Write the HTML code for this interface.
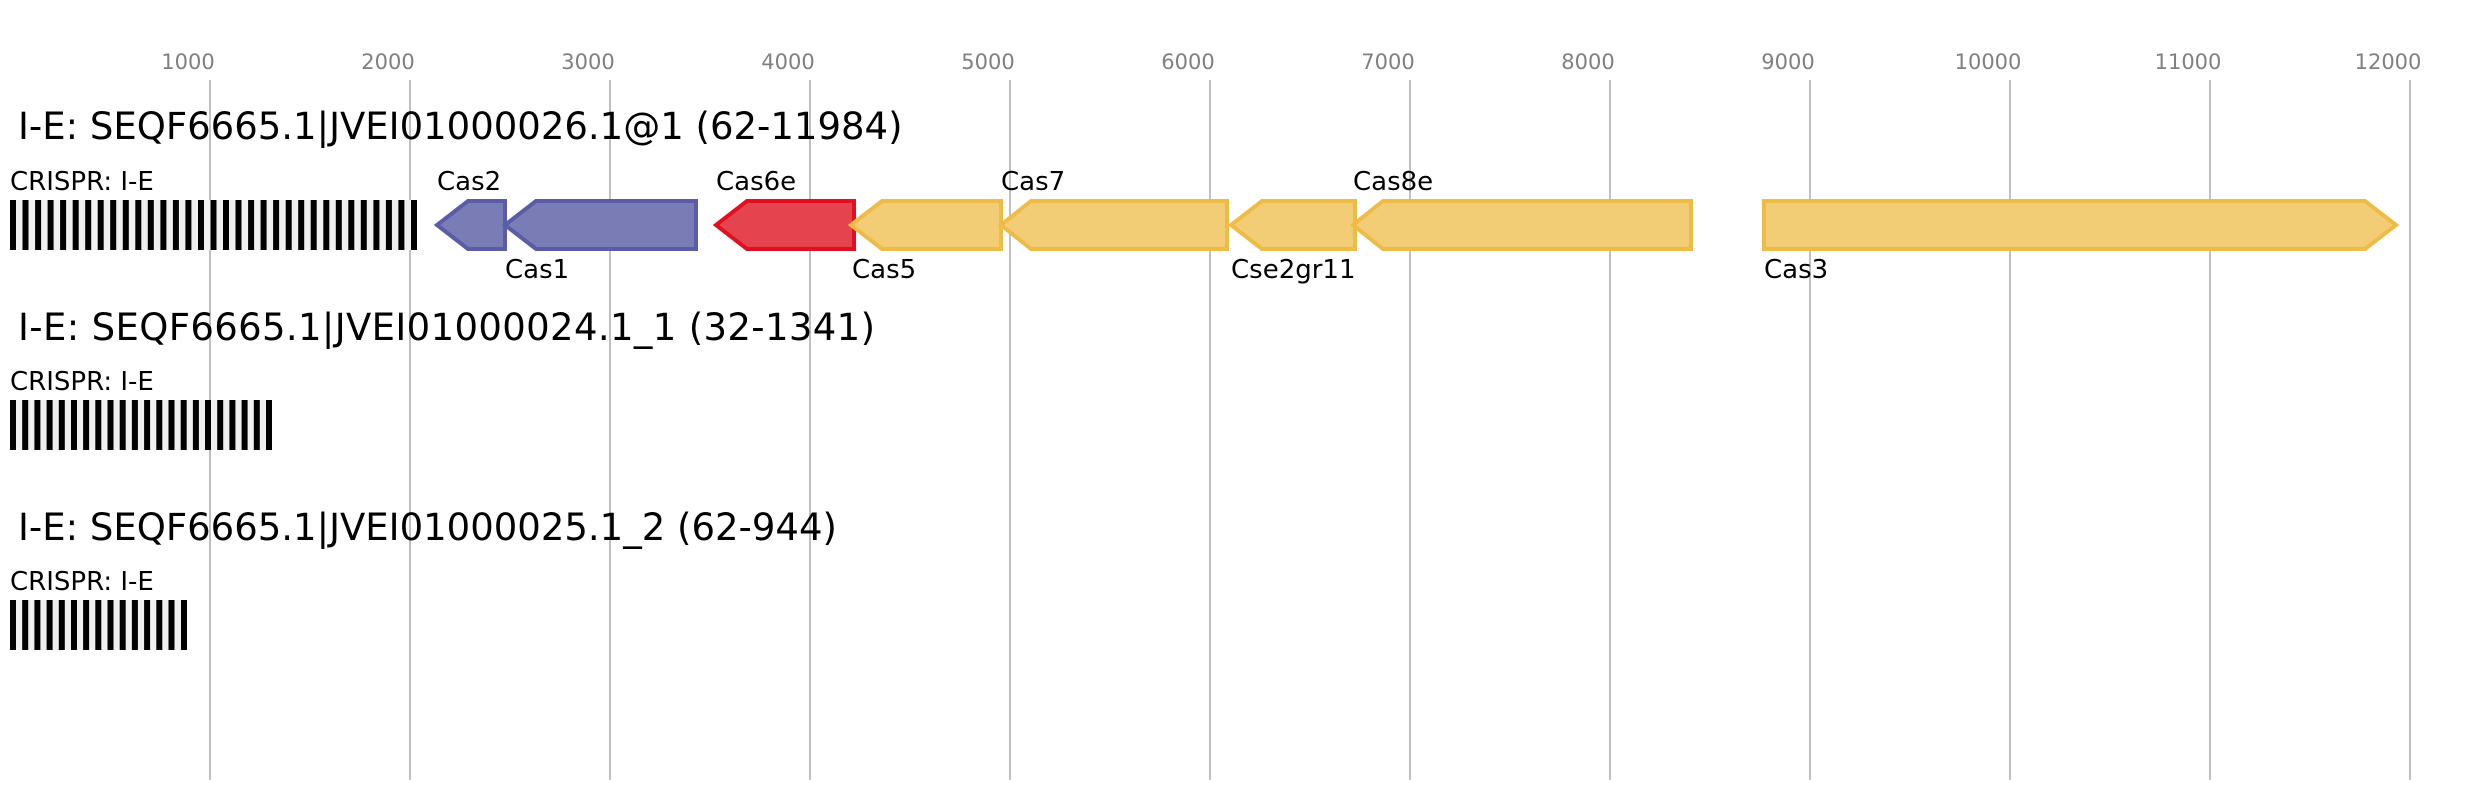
<!DOCTYPE html>
<html><head><meta charset="utf-8"><style>html,body{margin:0;padding:0;background:#fff}svg{display:block}</style></head>
<body>
<svg width="2484" height="800" xmlns="http://www.w3.org/2000/svg" font-family="DejaVu Sans, Liberation Sans, sans-serif">
<g stroke="#c0c0c0" stroke-width="2">
<line x1="210" y1="80" x2="210" y2="780"/><line x1="410" y1="80" x2="410" y2="780"/><line x1="610" y1="80" x2="610" y2="780"/><line x1="810" y1="80" x2="810" y2="780"/><line x1="1010" y1="80" x2="1010" y2="780"/><line x1="1210" y1="80" x2="1210" y2="780"/><line x1="1410" y1="80" x2="1410" y2="780"/><line x1="1610" y1="80" x2="1610" y2="780"/><line x1="1810" y1="80" x2="1810" y2="780"/><line x1="2010" y1="80" x2="2010" y2="780"/><line x1="2210" y1="80" x2="2210" y2="780"/><line x1="2410" y1="80" x2="2410" y2="780"/>
</g>
<g fill="#808080" font-size="21" text-anchor="middle">
<text x="188" y="69">1000</text><text x="388" y="69">2000</text><text x="588" y="69">3000</text><text x="788" y="69">4000</text><text x="988" y="69">5000</text><text x="1188" y="69">6000</text><text x="1388" y="69">7000</text><text x="1588" y="69">8000</text><text x="1788" y="69">9000</text><text x="1988" y="69">10000</text><text x="2188" y="69">11000</text><text x="2388" y="69">12000</text>
</g>
<g font-size="37" fill="#000">
<text x="18" y="139">I-E: SEQF6665.1|JVEI01000026.1@1 (62-11984)</text>
<text x="18" y="340" textLength="857">I-E: SEQF6665.1|JVEI01000024.1_1 (32-1341)</text>
<text x="18" y="540">I-E: SEQF6665.1|JVEI01000025.1_2 (62-944)</text>
</g>
<g font-size="26" fill="#000">
<text x="10" y="190">CRISPR: I-E</text>
<text x="10" y="390">CRISPR: I-E</text>
<text x="10" y="590">CRISPR: I-E</text>
</g>
<rect x="10" y="200" width="407" height="50" fill="#f0f0f0"/>
<rect x="10" y="400" width="262" height="50" fill="#f0f0f0"/>
<rect x="10" y="600" width="177" height="50" fill="#f0f0f0"/>
<g stroke-width="4" stroke-linejoin="miter">
<path d="M505,201 L505,249 L468,249 L437,225 L468,201 Z" fill="#7a7db5" stroke="#5a5ca8"/>
<path d="M696,201 L696,249 L536,249 L505,225 L536,201 Z" fill="#7a7db5" stroke="#5a5ca8"/>
<path d="M854,201 L854,249 L747,249 L716,225 L747,201 Z" fill="#e5444f" stroke="#e01020"/>
<path d="M1001,201 L1001,249 L882,249 L851,225 L882,201 Z" fill="#f2cd75" stroke="#eebb45"/>
<path d="M1227,201 L1227,249 L1031,249 L1001,225 L1031,201 Z" fill="#f2cd75" stroke="#eebb45"/>
<path d="M1355,201 L1355,249 L1262,249 L1231,225 L1262,201 Z" fill="#f2cd75" stroke="#eebb45"/>
<path d="M1691,201 L1691,249 L1383,249 L1353,225 L1383,201 Z" fill="#f2cd75" stroke="#eebb45"/>
<path d="M1764,201 L2365,201 L2396,225 L2365,249 L1764,249 Z" fill="#f2cd75" stroke="#eebb45"/>
</g>
<g font-size="26" fill="#000">
<text x="437" y="190">Cas2</text>
<text x="505" y="278">Cas1</text>
<text x="716" y="190">Cas6e</text>
<text x="852" y="278">Cas5</text>
<text x="1001" y="190">Cas7</text>
<text x="1231" y="278">Cse2gr11</text>
<text x="1353" y="190">Cas8e</text>
<text x="1764" y="278">Cas3</text>
</g>
<g fill="#000">
<rect x="10" y="200" width="6" height="50"/><rect x="22.5" y="200" width="6" height="50"/><rect x="35.1" y="200" width="6" height="50"/><rect x="47.6" y="200" width="6" height="50"/><rect x="60.1" y="200" width="6" height="50"/><rect x="72.7" y="200" width="6" height="50"/><rect x="85.2" y="200" width="6" height="50"/><rect x="97.7" y="200" width="6" height="50"/><rect x="110.2" y="200" width="6" height="50"/><rect x="122.8" y="200" width="6" height="50"/><rect x="135.3" y="200" width="6" height="50"/><rect x="147.8" y="200" width="6" height="50"/><rect x="160.4" y="200" width="6" height="50"/><rect x="172.9" y="200" width="6" height="50"/><rect x="185.4" y="200" width="6" height="50"/><rect x="198" y="200" width="6" height="50"/><rect x="210.5" y="200" width="6" height="50"/><rect x="223" y="200" width="6" height="50"/><rect x="235.5" y="200" width="6" height="50"/><rect x="248.1" y="200" width="6" height="50"/><rect x="260.6" y="200" width="6" height="50"/><rect x="273.1" y="200" width="6" height="50"/><rect x="285.7" y="200" width="6" height="50"/><rect x="298.2" y="200" width="6" height="50"/><rect x="310.7" y="200" width="6" height="50"/><rect x="323.3" y="200" width="6" height="50"/><rect x="335.8" y="200" width="6" height="50"/><rect x="348.3" y="200" width="6" height="50"/><rect x="360.8" y="200" width="6" height="50"/><rect x="373.4" y="200" width="6" height="50"/><rect x="385.9" y="200" width="6" height="50"/><rect x="398.4" y="200" width="6" height="50"/><rect x="411" y="200" width="6" height="50"/>
<rect x="10" y="400" width="6" height="50"/><rect x="22.2" y="400" width="6" height="50"/><rect x="34.4" y="400" width="6" height="50"/><rect x="46.6" y="400" width="6" height="50"/><rect x="58.8" y="400" width="6" height="50"/><rect x="71" y="400" width="6" height="50"/><rect x="83.1" y="400" width="6" height="50"/><rect x="95.3" y="400" width="6" height="50"/><rect x="107.5" y="400" width="6" height="50"/><rect x="119.7" y="400" width="6" height="50"/><rect x="131.9" y="400" width="6" height="50"/><rect x="144.1" y="400" width="6" height="50"/><rect x="156.3" y="400" width="6" height="50"/><rect x="168.5" y="400" width="6" height="50"/><rect x="180.7" y="400" width="6" height="50"/><rect x="192.9" y="400" width="6" height="50"/><rect x="205" y="400" width="6" height="50"/><rect x="217.2" y="400" width="6" height="50"/><rect x="229.4" y="400" width="6" height="50"/><rect x="241.6" y="400" width="6" height="50"/><rect x="253.8" y="400" width="6" height="50"/><rect x="266" y="400" width="6" height="50"/>
<rect x="10" y="600" width="6" height="50"/><rect x="22.2" y="600" width="6" height="50"/><rect x="34.4" y="600" width="6" height="50"/><rect x="46.6" y="600" width="6" height="50"/><rect x="58.8" y="600" width="6" height="50"/><rect x="71" y="600" width="6" height="50"/><rect x="83.1" y="600" width="6" height="50"/><rect x="95.3" y="600" width="6" height="50"/><rect x="107.5" y="600" width="6" height="50"/><rect x="119.7" y="600" width="6" height="50"/><rect x="131.9" y="600" width="6" height="50"/><rect x="144.1" y="600" width="6" height="50"/><rect x="156.3" y="600" width="6" height="50"/><rect x="168.5" y="600" width="6" height="50"/><rect x="181" y="600" width="6" height="50"/>
</g>
</svg>
</body></html>
